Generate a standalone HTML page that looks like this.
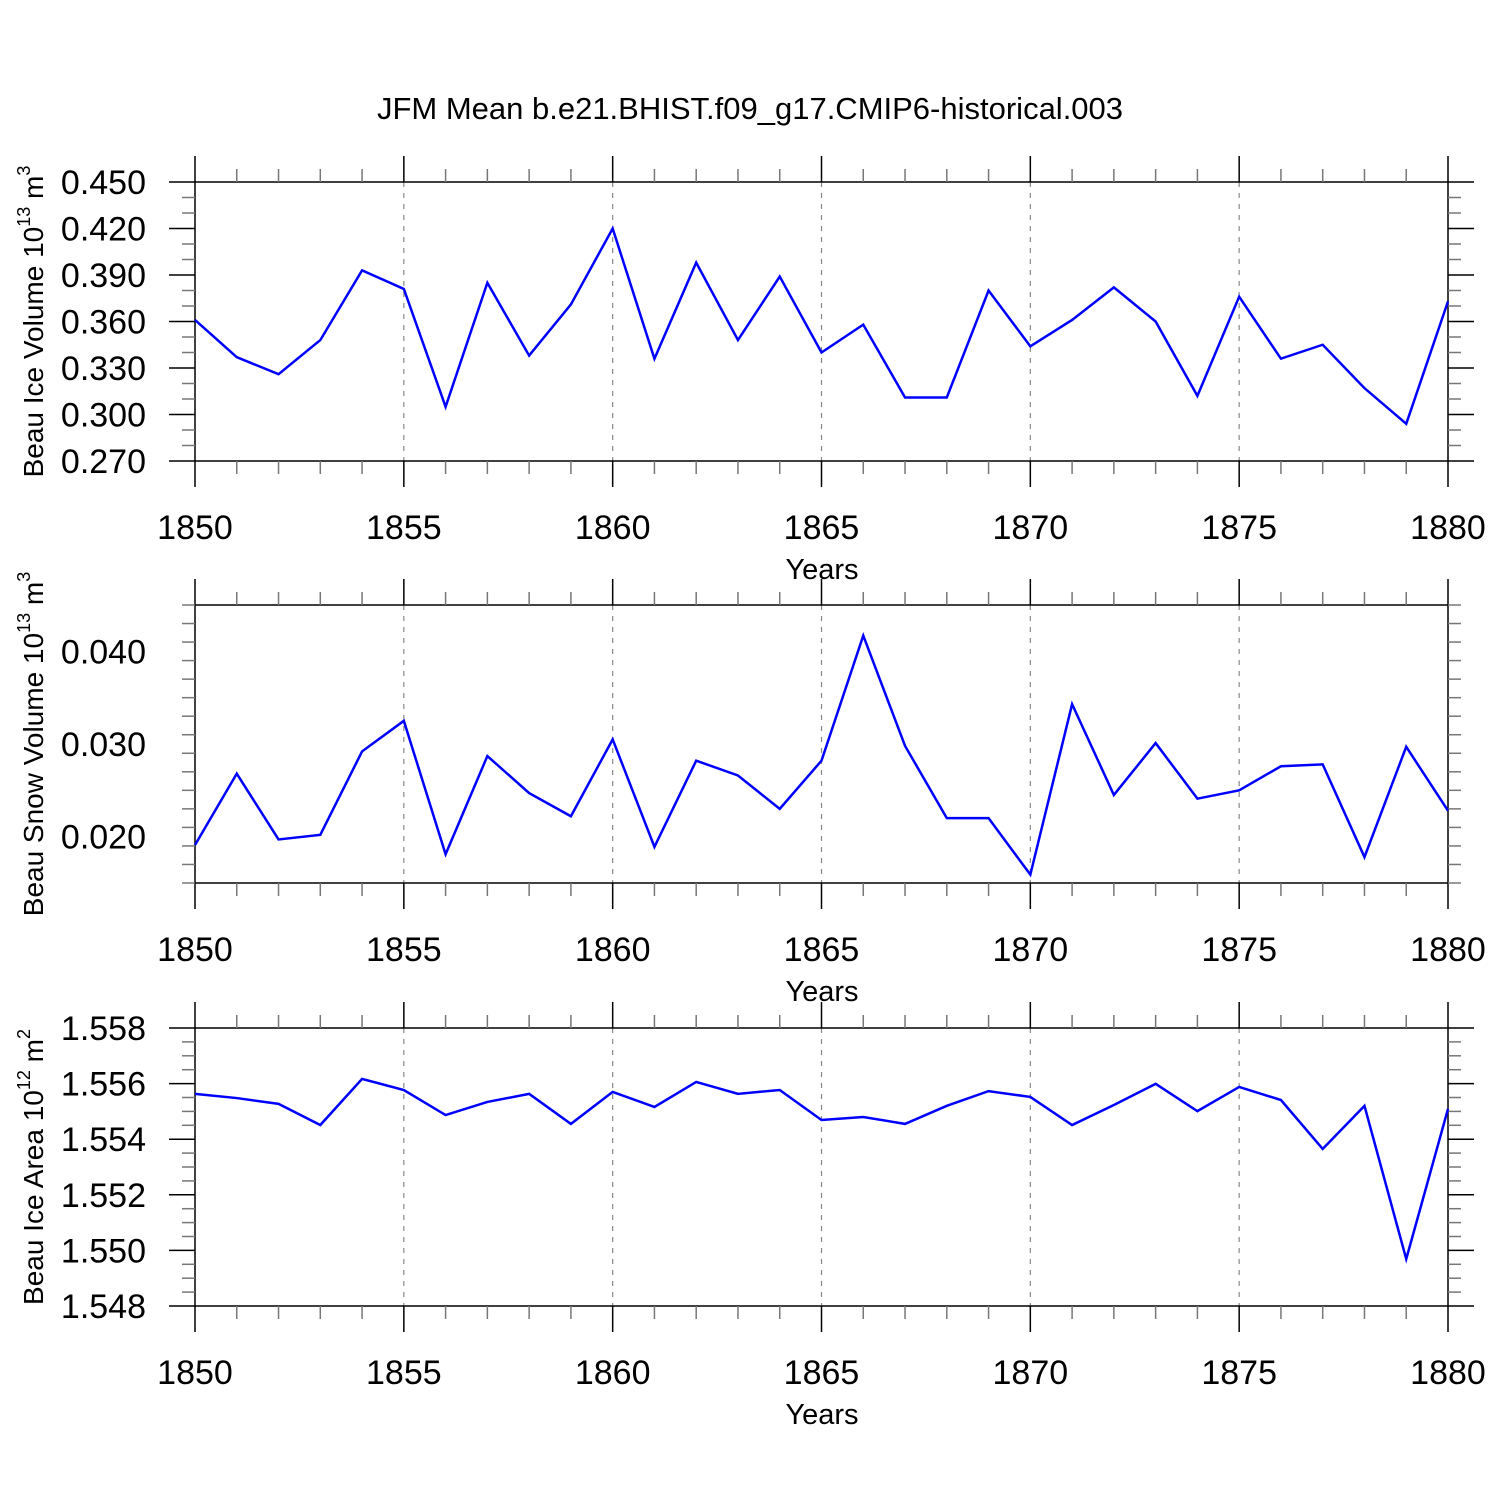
<!DOCTYPE html>
<html><head><meta charset="utf-8"><style>
body{margin:0;background:#fff}
svg{display:block;font-family:"Liberation Sans",sans-serif}
</style></head><body>
<svg id="c" width="1500" height="1500" viewBox="0 0 1500 1500">
<text x="750" y="119" text-anchor="middle" font-size="31">JFM Mean b.e21.BHIST.f09_g17.CMIP6-historical.003</text>
</svg>
<script>
const years = [1850,1851,1852,1853,1854,1855,1856,1857,1858,1859,1860,1861,1862,1863,1864,1865,1866,1867,1868,1869,1870,1871,1872,1873,1874,1875,1876,1877,1878,1879,1880];
const iceVolume = [0.361,0.337,0.326,0.348,0.393,0.381,0.305,0.385,0.338,0.371,0.420,0.336,0.398,0.348,0.389,0.340,0.358,0.311,0.311,0.380,0.344,0.361,0.382,0.360,0.312,0.376,0.336,0.345,0.317,0.294,0.373];
const snowVolume = [0.0191,0.0268,0.0197,0.0202,0.0292,0.0325,0.0181,0.0287,0.0247,0.0222,0.0305,0.0189,0.0282,0.0266,0.0230,0.0282,0.0417,0.0298,0.0220,0.0220,0.0159,0.0343,0.0245,0.0301,0.0241,0.0250,0.0276,0.0278,0.0178,0.0297,0.0228];
const iceArea = [1.55563,1.55548,1.55527,1.55451,1.55617,1.55577,1.55487,1.55534,1.55563,1.55455,1.5557,1.55516,1.55606,1.55563,1.55577,1.55469,1.5548,1.55455,1.5552,1.55573,1.55552,1.55451,1.55523,1.55599,1.55501,1.55588,1.55541,1.55365,1.5552,1.54969,1.55509];
const xTicks = [1850,1855,1860,1865,1870,1875,1880];
const iceVolTicks = [0.270,0.300,0.330,0.360,0.390,0.420,0.450];
const snowTicks = [0.020,0.030,0.040];
const areaTicks = [1.548,1.550,1.552,1.554,1.556,1.558];

const NS='http://www.w3.org/2000/svg';
const svg=document.getElementById('c');
function mk(t,a,p){const e=document.createElementNS(NS,t);for(const k in a)e.setAttribute(k,a[k]);(p||svg).appendChild(e);return e;}
const X0=195,X1=1448;
function panel(name,top,bot,ymin,ymax,minorStep,ticks,dec,data,title,sup,unit,usup){
  const g=mk('g',{});
  
  
  const xs=v=>X0+(v-1850)/30*(X1-X0);
  const ys=v=>bot-(v-ymin)/(ymax-ymin)*(bot-top);
  xTicks.slice(1,-1).forEach(t=>{const l=mk('line',{x1:xs(t),x2:xs(t),y1:top,y2:bot,stroke:'#888','stroke-width':1.2,'stroke-dasharray':'5,6'},g);
    
    });
  mk('rect',{x:X0,y:top,width:X1-X0,height:bot-top,fill:'none',stroke:'#000','stroke-width':1.5},g);
  for(let y=1850;y<=1880;y++){const maj=y%5===0;const L=maj?26:13;const c=maj?'#000':'#777';
    mk('line',{x1:xs(y),x2:xs(y),y1:top,y2:top-L,stroke:c,'stroke-width':1.5},g);
    mk('line',{x1:xs(y),x2:xs(y),y1:bot,y2:bot+L,stroke:c,'stroke-width':1.5},g);}
  xTicks.forEach(t=>{const tx=mk('text',{x:xs(t),y:bot+78,'text-anchor':'middle','font-size':34},g);tx.textContent=t;
    
    });
  const xt=mk('text',{x:822,y:bot+118,'text-anchor':'middle','font-size':29},g);xt.textContent='Years';
  
  
  const n=Math.round((ymax-ymin)/minorStep);
  for(let i=0;i<=n;i++){const v=ymin+i*minorStep;const y=ys(v);
    const maj=ticks.some(t=>Math.abs(t-v)<minorStep/10);const L=maj?26:13;const c=maj?'#000':'#777';
    mk('line',{x1:X0,x2:X0-L,y1:y,y2:y,stroke:c,'stroke-width':1.5},g);
    mk('line',{x1:X1,x2:X1+L,y1:y,y2:y,stroke:c,'stroke-width':1.5},g);}
  ticks.forEach(t=>{const tx=mk('text',{x:146,y:ys(t)+12,'text-anchor':'end','font-size':34},g);tx.textContent=t.toFixed(dec);
    
    });
  const yt=mk('text',{transform:`translate(43,${(top+bot)/2}) rotate(-90)`,'text-anchor':'middle','font-size':28},g);
  yt.innerHTML=title+' 10<tspan font-size="18" dy="-13">'+sup+'</tspan><tspan dy="13"> '+unit+'</tspan><tspan font-size="18" dy="-13">'+usup+'</tspan>';
  
  
  const p=mk('polyline',{points:data.map((v,i)=>xs(years[i])+','+ys(v)).join(' '),fill:'none',stroke:'#0000ff','stroke-width':2.5},g);
  
  
}
panel('ice-volume',182,461,0.270,0.450,0.010,iceVolTicks,3,iceVolume,'Beau Ice Volume','13','m','3');
panel('snow-volume',605,883,0.015,0.045,0.002,snowTicks,3,snowVolume,'Beau Snow Volume','13','m','3');
panel('ice-area',1028,1306,1.548,1.558,0.0005,areaTicks,3,iceArea,'Beau Ice Area','12','m','2');
</script>
</body></html>
